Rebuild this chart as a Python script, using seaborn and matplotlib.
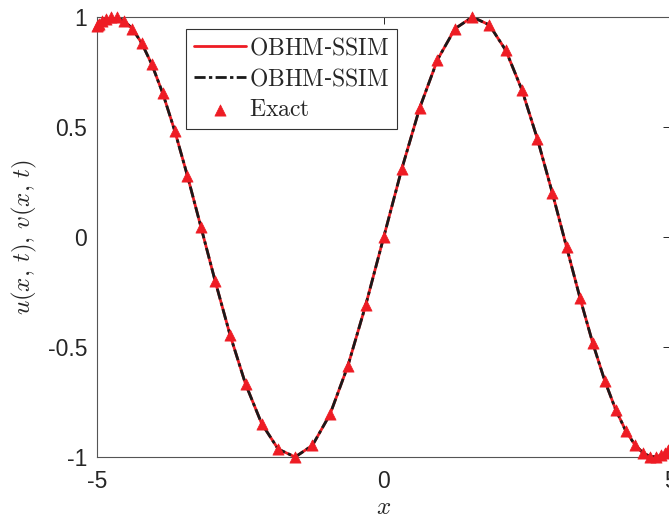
import matplotlib
matplotlib.use("Agg")
import matplotlib.pyplot as plt
import seaborn as sns
import pandas as pd

# ---- data ----
x_vals = [-5.000, -4.990, -4.961, -4.911, -4.843, -4.755, -4.649, -4.524, -4.382, -4.222,
          -4.045, -3.853, -3.645, -3.423, -3.187, -2.939, -2.679, -2.409, -2.129, -1.841,
          -1.545, -1.243, -0.937, -0.627, -0.314, 0.000, 0.314, 0.627, 0.937, 1.243,
          1.545, 1.841, 2.129, 2.409, 2.679, 2.939, 3.187, 3.423, 3.645, 3.853,
          4.045, 4.222, 4.382, 4.524, 4.649, 4.755, 4.843, 4.911, 4.961, 4.990, 5.000]
u_vals = [0.959, 0.962, 0.969, 0.980, 0.992, 0.999, 0.998, 0.982, 0.946, 0.882,
          0.785, 0.653, 0.483, 0.278, 0.045, -0.201, -0.446, -0.669, -0.848, -0.964,
          -1.000, -0.947, -0.806, -0.587, -0.309, 0.000, 0.309, 0.587, 0.806, 0.947,
          1.000, 0.964, 0.848, 0.669, 0.446, 0.201, -0.045, -0.278, -0.483, -0.653,
          -0.785, -0.882, -0.946, -0.982, -0.998, -0.999, -0.992, -0.980, -0.969, -0.962, -0.959]
v_vals = list(u_vals)
exact_vals = list(u_vals)

x_ticks = [-5, 0, 5]
y_ticks = [-1, -0.5, 0, 0.5, 1]
y_tick_labels = ["-1", "-0.5", "0", "0.5", "1"]
x_tick_labels = ["-5", "0", "5"]

label_u = r"$\mathrm{OBHM}$-$\mathrm{SSIM}$"
label_v = r"$\mathrm{OBHM}$-$\mathrm{SSIM}$"
label_exact = r"$\mathrm{Exact}$"

df = pd.DataFrame({"x": x_vals, "u": u_vals, "v": v_vals, "exact": exact_vals})

# ---- style ----
sns.set_style("white")
plt.rcParams["mathtext.fontset"] = "cm"
plt.rcParams["font.family"] = ["Liberation Sans", "DejaVu Sans"]

RED = "#ee1c24"
AX_COL = "#262626"

fig = plt.figure(figsize=(6.69, 5.23), dpi=100)
ax = fig.add_axes([97 / 669, 66 / 523, (670.5 - 97) / 669, 440 / 523])

sns.lineplot(data=df, x="x", y="u", ax=ax, color=RED, linewidth=2.0,
             sort=False, estimator=None, label=label_u)
sns.lineplot(data=df, x="x", y="v", ax=ax, color="#1a1a1a", linewidth=2.0,
             sort=False, estimator=None, label=label_v, dashes=False)
ax.lines[-1].set_linestyle((0, (4, 1.2, 1.2, 1.2)))
sns.scatterplot(data=df, x="x", y="exact", ax=ax, color=RED, marker="^", s=65,
                edgecolor=RED, linewidth=0.5, label=label_exact, clip_on=False, zorder=5)

ax.set_xlim(-5, 5)
ax.set_ylim(-1, 1)
ax.set_xticks(x_ticks)
ax.set_xticklabels(x_tick_labels)
ax.set_yticks(y_ticks)
ax.set_yticklabels(y_tick_labels)
ax.tick_params(direction="in", length=5, width=0.7, colors=AX_COL, labelsize=16.5,
               top=True, right=True, labelcolor=AX_COL)
ax.tick_params(axis="x", pad=9)
ax.tick_params(axis="y", pad=7)
for sp in ax.spines.values():
    sp.set_visible(True)
    sp.set_color("#555555")
    sp.set_linewidth(0.8)

ax.set_xlabel(r"$x$", fontsize=18, color=AX_COL, labelpad=2)
ax.set_ylabel(r"$u(x,\,t),\,v(x,\,t)$", fontsize=18, color=AX_COL, labelpad=6)

leg = ax.legend(loc="upper left", bbox_to_anchor=(0.155, 0.973), borderaxespad=0,
                frameon=True, fancybox=False, framealpha=1, edgecolor="#333333",
                prop={"family": "DejaVu Serif", "size": 17}, handlelength=2.2,
                handletextpad=0.15, labelspacing=0.33, borderpad=0.33)
leg.get_frame().set_linewidth(0.8)

fig.savefig("out.png", dpi=100)
